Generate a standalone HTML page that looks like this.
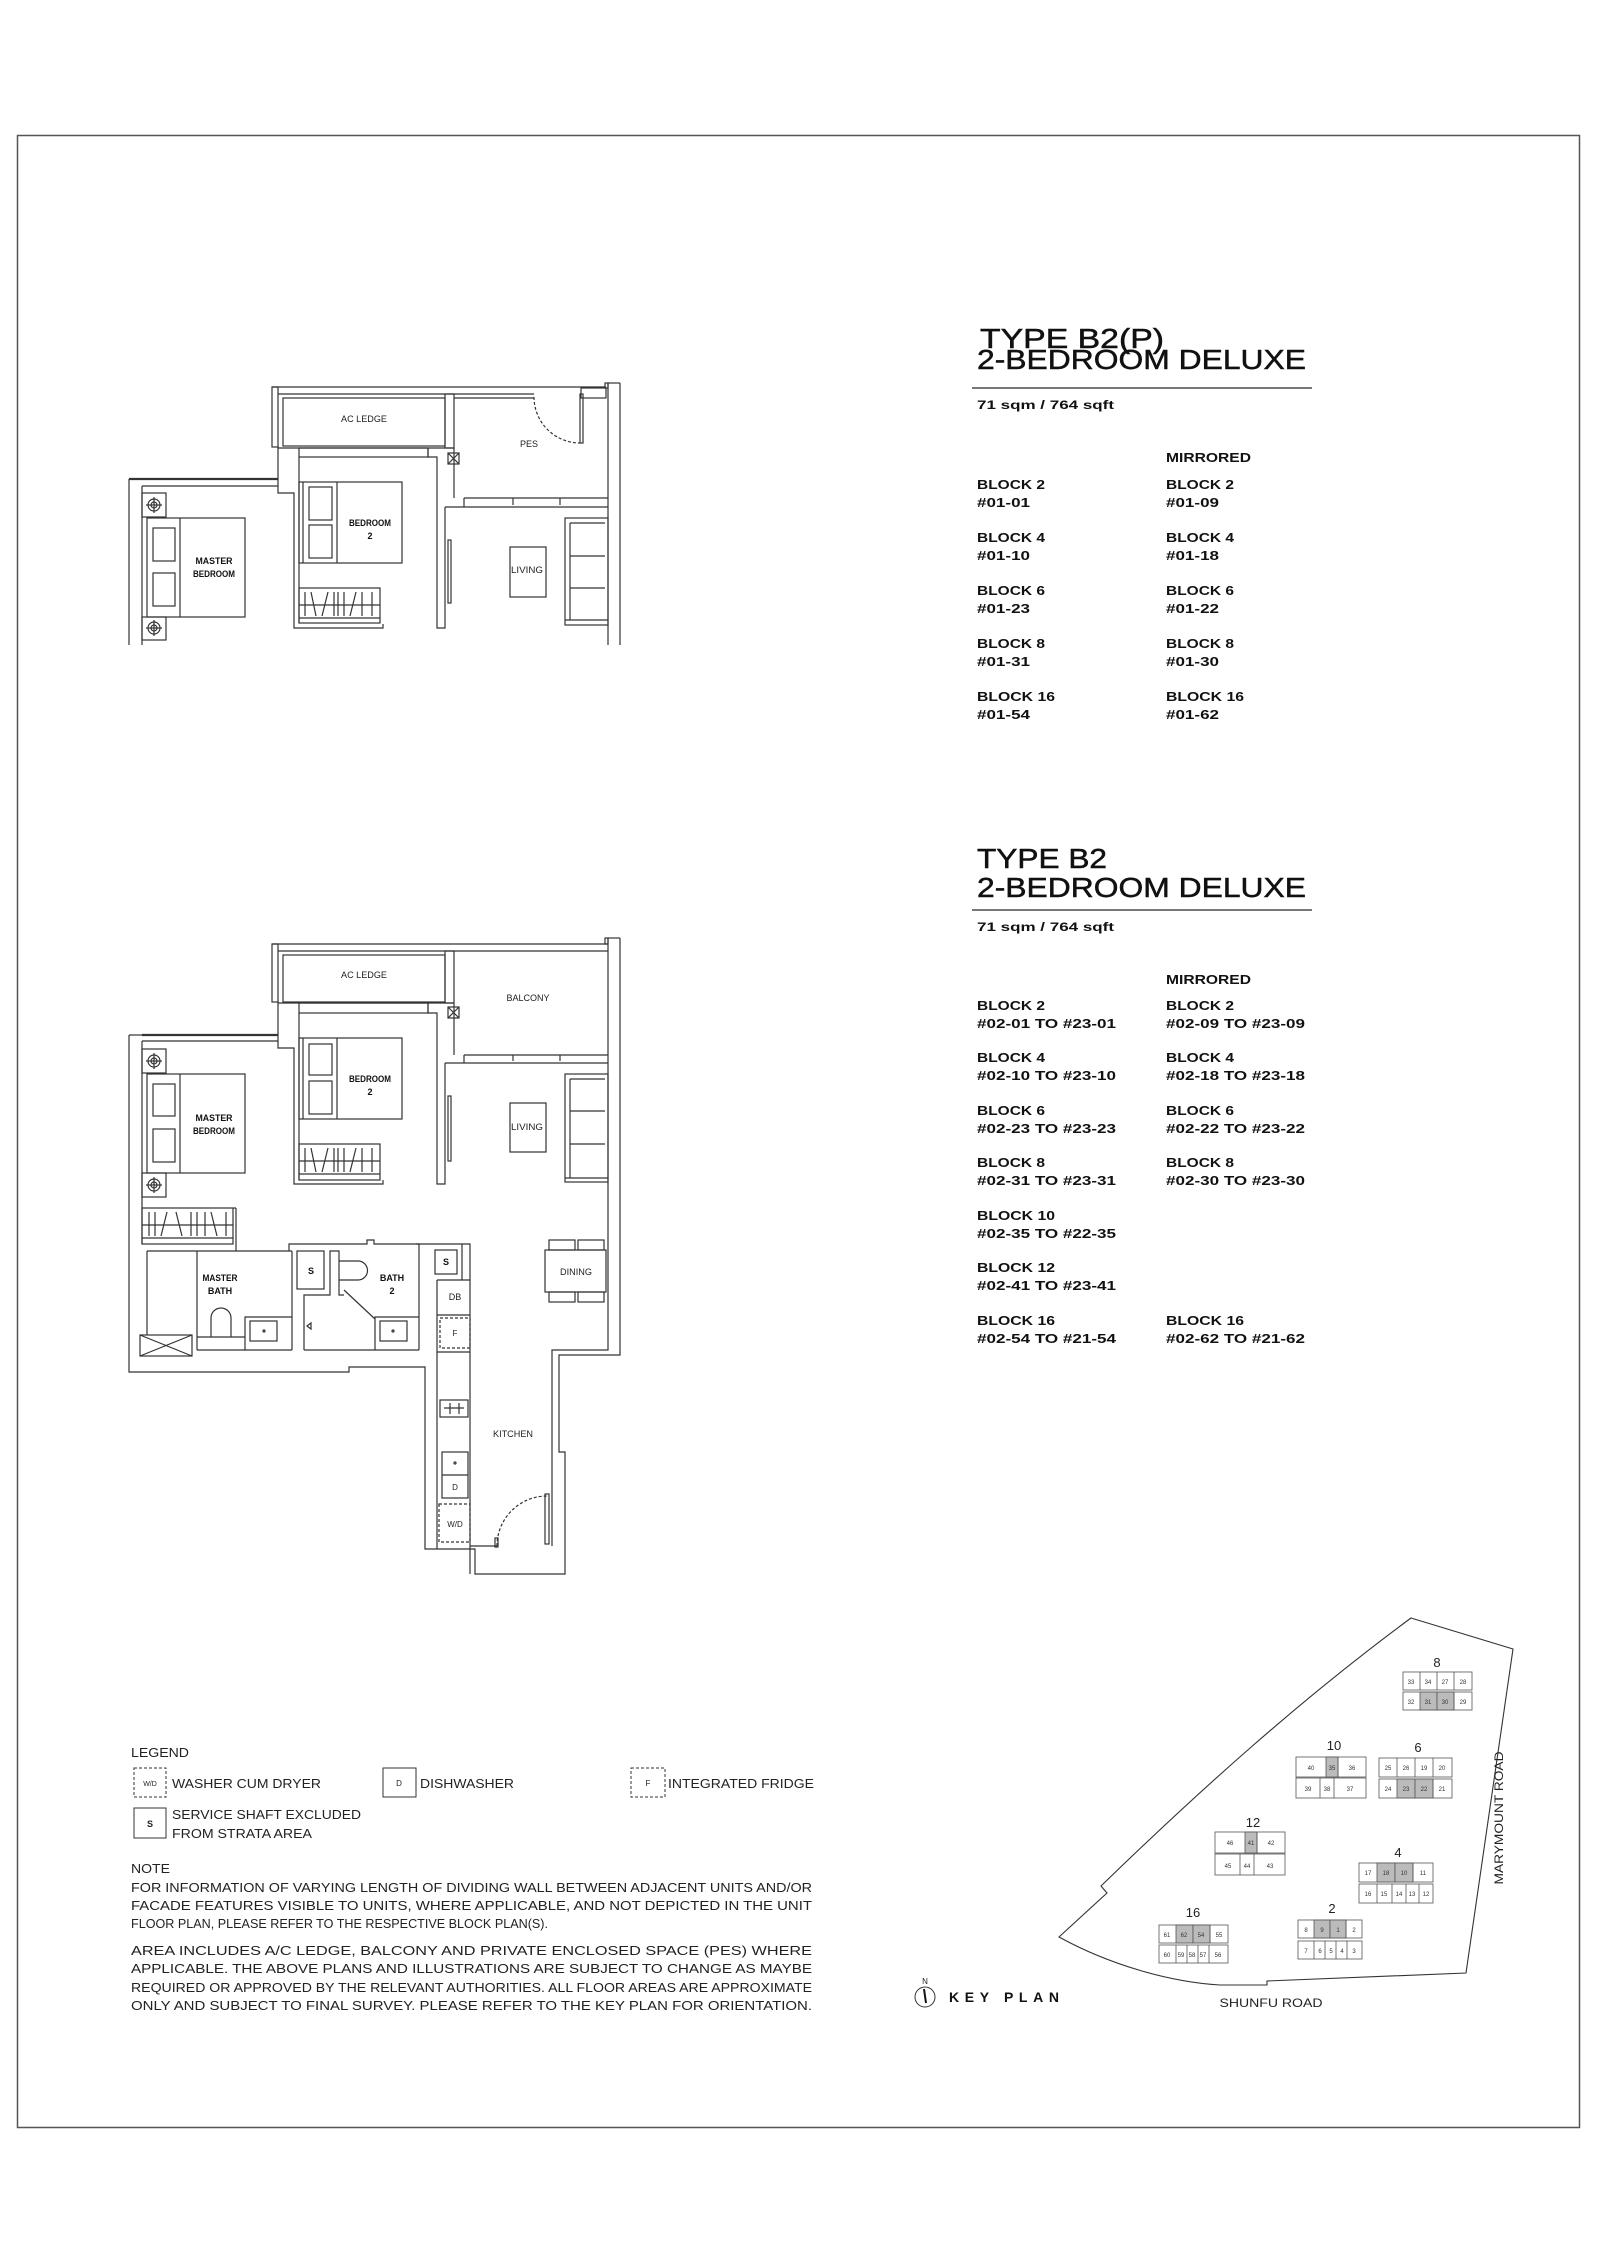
<!DOCTYPE html>
<html><head><meta charset="utf-8"><style>
html,body{margin:0;padding:0;background:#fff}
svg{display:block}
.t{font-family:"Liberation Sans",sans-serif}
</style></head><body>
<svg width="1600" height="2263" viewBox="0 0 1600 2263" xmlns="http://www.w3.org/2000/svg" class="t">
<rect x="0" y="0" width="1600" height="2263" fill="#fff"/>
<rect x="17.5" y="135.5" width="1562" height="1992" fill="none" stroke="#555" stroke-width="1.5"/>

<!-- ========== TEXT BLOCK B2(P) ========== -->
<g fill="#111" stroke="#111" stroke-width="0.5">
<text x="980" y="348" font-size="28" textLength="184" lengthAdjust="spacingAndGlyphs">TYPE B2(P)</text>
<text x="977" y="369" font-size="28" textLength="329" lengthAdjust="spacingAndGlyphs">2-BEDROOM DELUXE</text>
</g>
<g fill="#111" font-weight="bold">
<text x="977" y="409" font-size="12" textLength="137" lengthAdjust="spacingAndGlyphs">71 sqm / 764 sqft</text>
<text x="1166" y="462" font-size="13" textLength="85" lengthAdjust="spacingAndGlyphs">MIRRORED</text>
</g>
<line x1="972" y1="388" x2="1312" y2="388" stroke="#777" stroke-width="2"/>
<g fill="#111" font-weight="bold" font-size="13">
<text x="977" y="489" textLength="68" lengthAdjust="spacingAndGlyphs">BLOCK 2</text><text x="977" y="507" textLength="53" lengthAdjust="spacingAndGlyphs">#01-01</text>
<text x="1166" y="489" textLength="68" lengthAdjust="spacingAndGlyphs">BLOCK 2</text><text x="1166" y="507" textLength="53" lengthAdjust="spacingAndGlyphs">#01-09</text>
<text x="977" y="542" textLength="68" lengthAdjust="spacingAndGlyphs">BLOCK 4</text><text x="977" y="560" textLength="53" lengthAdjust="spacingAndGlyphs">#01-10</text>
<text x="1166" y="542" textLength="68" lengthAdjust="spacingAndGlyphs">BLOCK 4</text><text x="1166" y="560" textLength="53" lengthAdjust="spacingAndGlyphs">#01-18</text>
<text x="977" y="595" textLength="68" lengthAdjust="spacingAndGlyphs">BLOCK 6</text><text x="977" y="613" textLength="53" lengthAdjust="spacingAndGlyphs">#01-23</text>
<text x="1166" y="595" textLength="68" lengthAdjust="spacingAndGlyphs">BLOCK 6</text><text x="1166" y="613" textLength="53" lengthAdjust="spacingAndGlyphs">#01-22</text>
<text x="977" y="648" textLength="68" lengthAdjust="spacingAndGlyphs">BLOCK 8</text><text x="977" y="666" textLength="53" lengthAdjust="spacingAndGlyphs">#01-31</text>
<text x="1166" y="648" textLength="68" lengthAdjust="spacingAndGlyphs">BLOCK 8</text><text x="1166" y="666" textLength="53" lengthAdjust="spacingAndGlyphs">#01-30</text>
<text x="977" y="701" textLength="78" lengthAdjust="spacingAndGlyphs">BLOCK 16</text><text x="977" y="719" textLength="53" lengthAdjust="spacingAndGlyphs">#01-54</text>
<text x="1166" y="701" textLength="78" lengthAdjust="spacingAndGlyphs">BLOCK 16</text><text x="1166" y="719" textLength="53" lengthAdjust="spacingAndGlyphs">#01-62</text>
</g>

<!-- ========== TEXT BLOCK B2 ========== -->
<g fill="#111" stroke="#111" stroke-width="0.5">
<text x="977" y="868" font-size="28" textLength="130" lengthAdjust="spacingAndGlyphs">TYPE B2</text>
<text x="977" y="897" font-size="28" textLength="329" lengthAdjust="spacingAndGlyphs">2-BEDROOM DELUXE</text>
</g>
<g fill="#111" font-weight="bold">
<text x="977" y="931" font-size="12" textLength="137" lengthAdjust="spacingAndGlyphs">71 sqm / 764 sqft</text>
<text x="1166" y="984" font-size="13" textLength="85" lengthAdjust="spacingAndGlyphs">MIRRORED</text>
</g>
<line x1="972" y1="910" x2="1312" y2="910" stroke="#777" stroke-width="2"/>
<g fill="#111" font-weight="bold" font-size="13">
<text x="977" y="1010" textLength="68" lengthAdjust="spacingAndGlyphs">BLOCK 2</text><text x="977" y="1028" textLength="139" lengthAdjust="spacingAndGlyphs">#02-01 TO #23-01</text>
<text x="1166" y="1010" textLength="68" lengthAdjust="spacingAndGlyphs">BLOCK 2</text><text x="1166" y="1028" textLength="139" lengthAdjust="spacingAndGlyphs">#02-09 TO #23-09</text>
<text x="977" y="1062" textLength="68" lengthAdjust="spacingAndGlyphs">BLOCK 4</text><text x="977" y="1080" textLength="139" lengthAdjust="spacingAndGlyphs">#02-10 TO #23-10</text>
<text x="1166" y="1062" textLength="68" lengthAdjust="spacingAndGlyphs">BLOCK 4</text><text x="1166" y="1080" textLength="139" lengthAdjust="spacingAndGlyphs">#02-18 TO #23-18</text>
<text x="977" y="1115" textLength="68" lengthAdjust="spacingAndGlyphs">BLOCK 6</text><text x="977" y="1133" textLength="139" lengthAdjust="spacingAndGlyphs">#02-23 TO #23-23</text>
<text x="1166" y="1115" textLength="68" lengthAdjust="spacingAndGlyphs">BLOCK 6</text><text x="1166" y="1133" textLength="139" lengthAdjust="spacingAndGlyphs">#02-22 TO #23-22</text>
<text x="977" y="1167" textLength="68" lengthAdjust="spacingAndGlyphs">BLOCK 8</text><text x="977" y="1185" textLength="139" lengthAdjust="spacingAndGlyphs">#02-31 TO #23-31</text>
<text x="1166" y="1167" textLength="68" lengthAdjust="spacingAndGlyphs">BLOCK 8</text><text x="1166" y="1185" textLength="139" lengthAdjust="spacingAndGlyphs">#02-30 TO #23-30</text>
<text x="977" y="1220" textLength="78" lengthAdjust="spacingAndGlyphs">BLOCK 10</text><text x="977" y="1238" textLength="139" lengthAdjust="spacingAndGlyphs">#02-35 TO #22-35</text>
<text x="977" y="1272" textLength="78" lengthAdjust="spacingAndGlyphs">BLOCK 12</text><text x="977" y="1290" textLength="139" lengthAdjust="spacingAndGlyphs">#02-41 TO #23-41</text>
<text x="977" y="1325" textLength="78" lengthAdjust="spacingAndGlyphs">BLOCK 16</text><text x="977" y="1343" textLength="139" lengthAdjust="spacingAndGlyphs">#02-54 TO #21-54</text>
<text x="1166" y="1325" textLength="78" lengthAdjust="spacingAndGlyphs">BLOCK 16</text><text x="1166" y="1343" textLength="139" lengthAdjust="spacingAndGlyphs">#02-62 TO #21-62</text>
</g>

<!-- ========== PLAN 1 : B2(P) ========== -->
<g fill="none" stroke="#333" stroke-width="1.2">
<line x1="272" y1="387" x2="606" y2="387"/>
<line x1="278" y1="394" x2="534" y2="394"/>
<rect x="272" y="387" width="6" height="60"/>
<rect x="283" y="398" width="162" height="48"/>
<rect x="445" y="394" width="9" height="54"/>
<line x1="454" y1="398" x2="534" y2="398"/>
<path d="M534 397 A46 46 0 0 0 580 443" stroke-dasharray="3,2"/>
<rect x="580" y="394" width="3" height="49"/>
<rect x="581" y="388" width="25" height="10"/>
<rect x="605" y="383" width="3" height="5"/>
<line x1="608" y1="383" x2="608" y2="645"/>
<line x1="620" y1="383" x2="620" y2="645"/>
<line x1="608" y1="383" x2="620" y2="383"/>
<polyline points="278,446 278,493 294,493 294,628 383,628 383,624"/>
<line x1="278" y1="448" x2="454" y2="448"/>
<rect x="299" y="448" width="129" height="9"/>
<polyline points="299,457 299,623"/>
<polyline points="428,448 428,457 437,457 437,628 445,628 445,507"/>
<rect x="448" y="453" width="11" height="11"/>
<line x1="448" y1="453" x2="459" y2="464"/><line x1="459" y1="453" x2="448" y2="464"/>
<polyline points="454,448 454,498"/>
<rect x="299" y="482" width="103" height="81"/>
<line x1="303" y1="482" x2="303" y2="563"/>
<line x1="337" y1="482" x2="337" y2="563"/>
<rect x="309" y="487" width="23" height="33"/>
<rect x="309" y="525" width="23" height="33"/>
<rect x="299" y="588" width="81" height="35"/>
<line x1="299" y1="618" x2="380" y2="618"/>
<path d="M305 592V616 M311 592L316 616 M322 616L328 592 M334 592V616 M338 592V616 M344 592V616 M350 616L356 592 M362 592V616 M372 592V616 M299 605H380"/>
<line x1="129" y1="479" x2="278" y2="479" stroke-width="2.2"/>
<line x1="142" y1="486" x2="278" y2="486"/>
<line x1="129" y1="479" x2="129" y2="645"/>
<line x1="142" y1="486" x2="142" y2="645"/>
<rect x="142" y="493" width="24" height="24"/>
<rect x="142" y="617" width="24" height="23"/>
<circle cx="154" cy="505" r="6"/><circle cx="154" cy="505" r="3"/>
<line x1="146" y1="505" x2="162" y2="505"/><line x1="154" y1="497" x2="154" y2="513"/>
<circle cx="154" cy="628" r="6"/><circle cx="154" cy="628" r="3"/>
<line x1="146" y1="628" x2="162" y2="628"/><line x1="154" y1="620" x2="154" y2="636"/>
<rect x="147" y="518" width="98" height="99"/>
<line x1="180" y1="518" x2="180" y2="617"/>
<rect x="153" y="528" width="22" height="33"/>
<rect x="153" y="573" width="22" height="33"/>
<line x1="464" y1="498" x2="608" y2="498"/>
<line x1="445" y1="507" x2="608" y2="507"/>
<line x1="464" y1="498" x2="464" y2="507"/>
<line x1="513" y1="498" x2="513" y2="505"/><line x1="560" y1="498" x2="560" y2="505"/>
<rect x="448" y="540" width="3" height="63"/>
<rect x="510" y="547" width="36" height="50"/>
<rect x="565" y="518" width="43" height="107"/>
<line x1="570" y1="523" x2="605" y2="523"/><line x1="570" y1="523" x2="570" y2="620"/>
<line x1="570" y1="556" x2="605" y2="556"/><line x1="570" y1="588" x2="605" y2="588"/>
<line x1="565" y1="620" x2="608" y2="620"/>
</g>
<g fill="#222" font-size="9" text-anchor="middle">
<text x="364" y="422" textLength="46" lengthAdjust="spacingAndGlyphs">AC LEDGE</text>
<text x="529" y="447">PES</text>
<text x="527" y="573" textLength="32" lengthAdjust="spacingAndGlyphs">LIVING</text>
</g>
<g fill="#111" font-size="9" font-weight="bold" text-anchor="middle">
<text x="370" y="526" textLength="42" lengthAdjust="spacingAndGlyphs">BEDROOM</text>
<text x="370" y="539">2</text>
<text x="214" y="564" textLength="37" lengthAdjust="spacingAndGlyphs">MASTER</text>
<text x="214" y="577" textLength="42" lengthAdjust="spacingAndGlyphs">BEDROOM</text>
</g>

<!-- ========== PLAN 2 : B2 ========== -->
<g fill="none" stroke="#333" stroke-width="1.2">
<line x1="272" y1="944" x2="608" y2="944"/>
<line x1="278" y1="951" x2="608" y2="951"/>
<rect x="272" y="944" width="6" height="58"/>
<rect x="283" y="955" width="162" height="47"/>
<rect x="445" y="951" width="9" height="52"/>
<rect x="605" y="938" width="3" height="6"/>
<polyline points="620,938 620,1355 559,1355 559,1452 565,1452 565,1574 475,1574 475,1549 425,1549 425,1367 349,1367 349,1372 129,1372 129,1035"/>
<polyline points="608,938 608,1350 552,1350 552,1546"/>
<line x1="608" y1="938" x2="620" y2="938"/>
<line x1="464" y1="1055" x2="608" y2="1055"/>
<line x1="445" y1="1063" x2="608" y2="1063"/>
<line x1="464" y1="1055" x2="464" y2="1063"/>
<line x1="513" y1="1055" x2="513" y2="1061"/><line x1="560" y1="1055" x2="560" y2="1061"/>
<line x1="454" y1="1003" x2="454" y2="1055"/>
<polyline points="278,1002 278,1048 294,1048 294,1184 383,1184 383,1180"/>
<line x1="278" y1="1003" x2="454" y2="1003"/>
<rect x="299" y="1003" width="129" height="10"/>
<line x1="299" y1="1013" x2="299" y2="1180"/>
<polyline points="428,1003 428,1013 437,1013 437,1184 445,1184 445,1063"/>
<rect x="448" y="1007" width="11" height="11"/>
<line x1="448" y1="1007" x2="459" y2="1018"/><line x1="459" y1="1007" x2="448" y2="1018"/>
<rect x="299" y="1038" width="103" height="81"/>
<line x1="303" y1="1038" x2="303" y2="1119"/>
<line x1="337" y1="1038" x2="337" y2="1119"/>
<rect x="309" y="1044" width="23" height="31"/>
<rect x="309" y="1081" width="23" height="33"/>
<rect x="299" y="1144" width="81" height="36"/>
<line x1="299" y1="1174" x2="380" y2="1174"/>
<path d="M305 1148V1172 M311 1148L316 1172 M322 1172L328 1148 M334 1148V1172 M338 1148V1172 M344 1148V1172 M350 1172L356 1148 M362 1148V1172 M372 1148V1172 M299 1161H380"/>
<line x1="142" y1="1035" x2="278" y2="1035" stroke-width="2.2"/>
<line x1="142" y1="1041" x2="278" y2="1041"/>
<line x1="129" y1="1035" x2="142" y2="1035"/>
<line x1="142" y1="1041" x2="142" y2="1244"/>
<rect x="142" y="1049" width="24" height="24"/>
<rect x="142" y="1173" width="24" height="24"/>
<circle cx="154" cy="1061" r="6"/><circle cx="154" cy="1061" r="3"/>
<line x1="146" y1="1061" x2="162" y2="1061"/><line x1="154" y1="1053" x2="154" y2="1069"/>
<circle cx="154" cy="1185" r="6"/><circle cx="154" cy="1185" r="3"/>
<line x1="146" y1="1185" x2="162" y2="1185"/><line x1="154" y1="1177" x2="154" y2="1193"/>
<rect x="147" y="1074" width="98" height="99"/>
<line x1="180" y1="1074" x2="180" y2="1173"/>
<rect x="153" y="1084" width="22" height="32"/>
<rect x="153" y="1129" width="22" height="33"/>
<rect x="142" y="1208" width="91" height="36"/>
<line x1="142" y1="1238" x2="233" y2="1238"/>
<path d="M149 1212V1236 M155 1212V1236 M161 1236L167 1212 M176 1212L182 1236 M191 1212V1236 M197 1212V1236 M205 1212V1236 M211 1212L217 1236 M226 1212V1236 M142 1225H233"/>
<line x1="233" y1="1208" x2="236" y2="1208"/><line x1="236" y1="1208" x2="236" y2="1251"/>
<polyline points="147,1251 289,1251 289,1244 367,1244 367,1240 374,1240 374,1244 419,1244"/>
<line x1="147" y1="1251" x2="147" y2="1335"/>
<line x1="197" y1="1251" x2="197" y2="1350"/>
<line x1="289" y1="1251" x2="292" y2="1251"/>
<line x1="292" y1="1251" x2="292" y2="1350"/>
<line x1="197" y1="1350" x2="292" y2="1350"/>
<line x1="197" y1="1337" x2="245" y2="1337"/>
<polyline points="245,1350 245,1317 292,1317"/>
<rect x="250" y="1321" width="27" height="20"/>
<circle cx="264" cy="1331" r="1"/>
<path d="M211 1337 L211 1318 A10 10 0 0 1 231 1318 L231 1337"/>
<rect x="140" y="1335" width="52" height="21"/>
<line x1="140" y1="1335" x2="192" y2="1356"/><line x1="192" y1="1335" x2="140" y2="1356"/>
<rect x="297" y="1251" width="27" height="38"/>
<polyline points="304,1350 304,1295 330,1295 330,1251 339,1251 339,1295 344,1295"/>
<line x1="419" y1="1244" x2="419" y2="1350"/>
<line x1="304" y1="1350" x2="419" y2="1350"/>
<line x1="344" y1="1290" x2="375" y2="1319"/>
<polyline points="375,1350 375,1317 419,1317"/>
<rect x="380" y="1321" width="27" height="20"/>
<circle cx="393" cy="1331" r="1"/>
<path d="M339 1261 L358 1261 A9.5 9.5 0 0 1 358 1280 L339 1280"/>
<path d="M307 1326 L311 1323 L311 1329 Z"/>
<polyline points="416,1244 470,1244 470,1574"/>
<line x1="462" y1="1244" x2="462" y2="1280"/>
<rect x="435" y="1250" width="22" height="24"/>
<line x1="437" y1="1280" x2="470" y2="1280"/>
<line x1="437" y1="1280" x2="437" y2="1549"/>
<line x1="437" y1="1315" x2="470" y2="1315"/>
<rect x="440" y="1318" width="30" height="30" stroke-dasharray="3,2"/>
<line x1="437" y1="1352" x2="470" y2="1352"/>
<rect x="440" y="1400" width="28" height="17"/>
<line x1="444" y1="1408" x2="464" y2="1408"/><line x1="450" y1="1403" x2="450" y2="1414"/><line x1="459" y1="1403" x2="459" y2="1414"/>
<rect x="442" y="1452" width="26" height="46"/>
<line x1="442" y1="1475" x2="468" y2="1475"/>
<circle cx="455" cy="1463" r="1"/>
<rect x="439" y="1504" width="31" height="38" stroke-dasharray="3,2"/>
<line x1="470" y1="1546" x2="497" y2="1546"/>
<rect x="495" y="1538" width="3" height="9"/>
<path d="M497 1546 A50 50 0 0 1 547 1496" stroke-dasharray="3,2"/>
<rect x="545" y="1494" width="4" height="50"/>
<rect x="448" y="1096" width="3" height="65"/>
<rect x="510" y="1103" width="36" height="49"/>
<rect x="565" y="1074" width="43" height="108"/>
<line x1="570" y1="1079" x2="605" y2="1079"/><line x1="570" y1="1079" x2="570" y2="1178"/>
<line x1="570" y1="1111" x2="605" y2="1111"/><line x1="570" y1="1144" x2="605" y2="1144"/>
<line x1="565" y1="1178" x2="608" y2="1178"/>
<rect x="545" y="1250" width="61" height="42"/>
<rect x="549" y="1240" width="26" height="10"/><rect x="578" y="1240" width="26" height="10"/>
<rect x="549" y="1292" width="26" height="10"/><rect x="578" y="1292" width="26" height="10"/>
</g>
<g fill="#222" font-size="9" text-anchor="middle">
<text x="364" y="978" textLength="46" lengthAdjust="spacingAndGlyphs">AC LEDGE</text>
<text x="528" y="1001" textLength="43" lengthAdjust="spacingAndGlyphs">BALCONY</text>
<text x="527" y="1130" textLength="32" lengthAdjust="spacingAndGlyphs">LIVING</text>
<text x="576" y="1275" textLength="32" lengthAdjust="spacingAndGlyphs">DINING</text>
<text x="513" y="1437" textLength="40" lengthAdjust="spacingAndGlyphs">KITCHEN</text>
<text x="455" y="1300">DB</text>
<text x="455" y="1336" font-size="8">F</text>
<text x="455" y="1490" font-size="8">D</text>
<text x="455" y="1527" font-size="8">W/D</text>
</g>
<g fill="#111" font-size="9" font-weight="bold" text-anchor="middle">
<text x="370" y="1082" textLength="42" lengthAdjust="spacingAndGlyphs">BEDROOM</text>
<text x="370" y="1095">2</text>
<text x="214" y="1121" textLength="37" lengthAdjust="spacingAndGlyphs">MASTER</text>
<text x="214" y="1134" textLength="42" lengthAdjust="spacingAndGlyphs">BEDROOM</text>
<text x="220" y="1281" textLength="35" lengthAdjust="spacingAndGlyphs">MASTER</text>
<text x="220" y="1294">BATH</text>
<text x="392" y="1281">BATH</text>
<text x="392" y="1294">2</text>
<text x="311" y="1274">S</text>
<text x="446" y="1265">S</text>
</g>

<!-- ========== LEGEND & NOTES ========== -->
<g fill="#222" font-size="13">
<text x="131" y="1757" textLength="58" lengthAdjust="spacingAndGlyphs">LEGEND</text>
<text x="172" y="1788" textLength="149" lengthAdjust="spacingAndGlyphs">WASHER CUM DRYER</text>
<text x="420" y="1788" textLength="94" lengthAdjust="spacingAndGlyphs">DISHWASHER</text>
<text x="668" y="1788" textLength="146" lengthAdjust="spacingAndGlyphs">INTEGRATED FRIDGE</text>
<text x="172" y="1819" textLength="189" lengthAdjust="spacingAndGlyphs">SERVICE SHAFT EXCLUDED</text>
<text x="172" y="1838" textLength="140" lengthAdjust="spacingAndGlyphs">FROM STRATA AREA</text>
<text x="131" y="1873" textLength="39" lengthAdjust="spacingAndGlyphs">NOTE</text>
<text x="131" y="1892" textLength="681" lengthAdjust="spacingAndGlyphs">FOR INFORMATION OF VARYING LENGTH OF DIVIDING WALL BETWEEN ADJACENT UNITS AND/OR</text>
<text x="131" y="1910" textLength="681" lengthAdjust="spacingAndGlyphs">FACADE FEATURES VISIBLE TO UNITS, WHERE APPLICABLE, AND NOT DEPICTED IN THE UNIT</text>
<text x="131" y="1928" textLength="417" lengthAdjust="spacingAndGlyphs">FLOOR PLAN, PLEASE REFER TO THE RESPECTIVE BLOCK PLAN(S).</text>
<text x="131" y="1955" textLength="681" lengthAdjust="spacingAndGlyphs">AREA INCLUDES A/C LEDGE, BALCONY AND PRIVATE ENCLOSED SPACE (PES) WHERE</text>
<text x="131" y="1973" textLength="681" lengthAdjust="spacingAndGlyphs">APPLICABLE. THE ABOVE PLANS AND ILLUSTRATIONS  ARE SUBJECT TO CHANGE AS MAYBE</text>
<text x="131" y="1992" textLength="681" lengthAdjust="spacingAndGlyphs">REQUIRED OR APPROVED BY THE RELEVANT AUTHORITIES. ALL FLOOR AREAS ARE APPROXIMATE</text>
<text x="131" y="2010" textLength="681" lengthAdjust="spacingAndGlyphs">ONLY AND SUBJECT TO FINAL SURVEY. PLEASE REFER TO THE KEY PLAN FOR ORIENTATION.</text>
</g>
<g fill="none" stroke="#333" stroke-width="1">
<rect x="134" y="1768" width="32" height="29" stroke-dasharray="3,2"/>
<rect x="383" y="1768" width="33" height="29"/>
<rect x="631" y="1768" width="34" height="29" stroke-dasharray="3,2"/>
<rect x="134" y="1808" width="32" height="30"/>
</g>
<g fill="#222" text-anchor="middle">
<text x="150" y="1786" font-size="7">W/D</text>
<text x="399" y="1786" font-size="8">D</text>
<text x="648" y="1786" font-size="8">F</text>
<text x="150" y="1827" font-size="9" font-weight="bold">S</text>
</g>

<!-- ========== KEY PLAN ========== -->
<path d="M1411 1618 L1513 1649 L1466 1973 L1267 1981 L1267 1985 L1220 1985 C1170 1982 1110 1965 1059 1937 L1107 1893 L1101 1886 C1200 1790 1300 1700 1411 1618 Z" fill="none" stroke="#333" stroke-width="1.1"/>
<g fill="#222" font-size="13" text-anchor="middle">
<text x="1437" y="1667">8</text>
<text x="1334" y="1750">10</text>
<text x="1418" y="1752">6</text>
<text x="1253" y="1827">12</text>
<text x="1398" y="1857">4</text>
<text x="1193" y="1917">16</text>
<text x="1332" y="1913">2</text>
<text x="1271" y="2007" font-size="12" textLength="103" lengthAdjust="spacingAndGlyphs">SHUNFU ROAD</text>
<text transform="translate(1503,1818) rotate(-90)" font-size="12" textLength="133" lengthAdjust="spacingAndGlyphs">MARYMOUNT ROAD</text>
</g>
<g stroke="#555" stroke-width="0.8" font-size="6" text-anchor="middle">
<rect x="1403" y="1672" width="69" height="18" fill="#fff"/><rect x="1403" y="1692" width="69" height="18" fill="#fff"/>
<rect x="1420" y="1692" width="17" height="18" fill="#bbb"/><rect x="1437" y="1692" width="17" height="18" fill="#bbb"/>
<line x1="1420" y1="1672" x2="1420" y2="1690"/><line x1="1437" y1="1672" x2="1437" y2="1690"/><line x1="1454" y1="1672" x2="1454" y2="1690"/><line x1="1454" y1="1692" x2="1454" y2="1710"/>
<g fill="#333" stroke="none"><text x="1411" y="1684">33</text><text x="1428" y="1684">34</text><text x="1445" y="1684">27</text><text x="1463" y="1684">28</text><text x="1411" y="1704">32</text><text x="1428" y="1704">31</text><text x="1445" y="1704">30</text><text x="1463" y="1704">29</text></g>
<rect x="1296" y="1757" width="70" height="20" fill="#fff"/><rect x="1296" y="1778" width="70" height="20" fill="#fff"/>
<rect x="1326" y="1757" width="12" height="20" fill="#bbb"/>
<line x1="1338" y1="1757" x2="1338" y2="1777"/><line x1="1320" y1="1778" x2="1320" y2="1798"/><line x1="1334" y1="1778" x2="1334" y2="1798"/>
<g fill="#333" stroke="none"><text x="1311" y="1770">40</text><text x="1332" y="1770">35</text><text x="1352" y="1770">36</text><text x="1308" y="1791">39</text><text x="1327" y="1791">38</text><text x="1350" y="1791">37</text></g>
<rect x="1379" y="1758" width="73" height="19" fill="#fff"/><rect x="1379" y="1779" width="73" height="19" fill="#fff"/>
<rect x="1397" y="1779" width="18" height="19" fill="#bbb"/><rect x="1415" y="1779" width="18" height="19" fill="#bbb"/>
<line x1="1397" y1="1758" x2="1397" y2="1777"/><line x1="1415" y1="1758" x2="1415" y2="1777"/><line x1="1433" y1="1758" x2="1433" y2="1777"/><line x1="1433" y1="1779" x2="1433" y2="1798"/>
<g fill="#333" stroke="none"><text x="1388" y="1770">25</text><text x="1406" y="1770">26</text><text x="1424" y="1770">19</text><text x="1442" y="1770">20</text><text x="1388" y="1791">24</text><text x="1406" y="1791">23</text><text x="1424" y="1791">22</text><text x="1442" y="1791">21</text></g>
<rect x="1215" y="1832" width="70" height="21" fill="#fff"/><rect x="1215" y="1854" width="70" height="21" fill="#fff"/>
<rect x="1245" y="1832" width="12" height="21" fill="#bbb"/>
<line x1="1257" y1="1832" x2="1257" y2="1853"/><line x1="1240" y1="1854" x2="1240" y2="1875"/><line x1="1254" y1="1854" x2="1254" y2="1875"/>
<g fill="#333" stroke="none"><text x="1230" y="1845">46</text><text x="1251" y="1845">41</text><text x="1271" y="1845">42</text><text x="1228" y="1868">45</text><text x="1247" y="1868">44</text><text x="1270" y="1868">43</text></g>
<rect x="1359" y="1863" width="74" height="19" fill="#fff"/><rect x="1359" y="1884" width="74" height="19" fill="#fff"/>
<rect x="1377" y="1863" width="18" height="19" fill="#bbb"/><rect x="1395" y="1863" width="18" height="19" fill="#bbb"/>
<line x1="1413" y1="1863" x2="1413" y2="1882"/>
<line x1="1377" y1="1884" x2="1377" y2="1903"/><line x1="1392" y1="1884" x2="1392" y2="1903"/><line x1="1406" y1="1884" x2="1406" y2="1903"/><line x1="1419" y1="1884" x2="1419" y2="1903"/>
<g fill="#333" stroke="none"><text x="1368" y="1875">17</text><text x="1386" y="1875">18</text><text x="1404" y="1875">10</text><text x="1423" y="1875">11</text><text x="1368" y="1896">16</text><text x="1384" y="1896">15</text><text x="1399" y="1896">14</text><text x="1412" y="1896">13</text><text x="1426" y="1896">12</text></g>
<rect x="1159" y="1925" width="69" height="18" fill="#fff"/><rect x="1159" y="1945" width="69" height="18" fill="#fff"/>
<rect x="1176" y="1925" width="17" height="18" fill="#bbb"/><rect x="1193" y="1925" width="17" height="18" fill="#bbb"/>
<line x1="1210" y1="1925" x2="1210" y2="1943"/>
<line x1="1176" y1="1945" x2="1176" y2="1963"/><line x1="1187" y1="1945" x2="1187" y2="1963"/><line x1="1198" y1="1945" x2="1198" y2="1963"/><line x1="1209" y1="1945" x2="1209" y2="1963"/>
<g fill="#333" stroke="none"><text x="1167" y="1937">61</text><text x="1184" y="1937">62</text><text x="1201" y="1937">54</text><text x="1219" y="1937">55</text><text x="1167" y="1957">60</text><text x="1181" y="1957">59</text><text x="1192" y="1957">58</text><text x="1203" y="1957">57</text><text x="1218" y="1957">56</text></g>
<rect x="1298" y="1920" width="64" height="18" fill="#fff"/><rect x="1298" y="1941" width="64" height="18" fill="#fff"/>
<rect x="1314" y="1920" width="16" height="18" fill="#bbb"/><rect x="1330" y="1920" width="16" height="18" fill="#bbb"/>
<line x1="1346" y1="1920" x2="1346" y2="1938"/>
<line x1="1314" y1="1941" x2="1314" y2="1959"/><line x1="1325" y1="1941" x2="1325" y2="1959"/><line x1="1336" y1="1941" x2="1336" y2="1959"/><line x1="1347" y1="1941" x2="1347" y2="1959"/>
<g fill="#333" stroke="none"><text x="1306" y="1932">8</text><text x="1322" y="1932">9</text><text x="1338" y="1932">1</text><text x="1354" y="1932">2</text><text x="1306" y="1953">7</text><text x="1320" y="1953">6</text><text x="1331" y="1953">5</text><text x="1342" y="1953">4</text><text x="1354" y="1953">3</text></g>
</g>
<circle cx="925" cy="1997" r="10" fill="none" stroke="#333" stroke-width="1"/>
<line x1="924" y1="1989" x2="926" y2="2003" stroke="#111" stroke-width="2"/>
<text x="925" y="1984" font-size="8" text-anchor="middle" fill="#222">N</text>
<text x="949" y="2002" font-size="14" font-weight="bold" fill="#111" textLength="110" lengthAdjust="spacing">KEY PLAN</text>
</svg>
</body></html>
